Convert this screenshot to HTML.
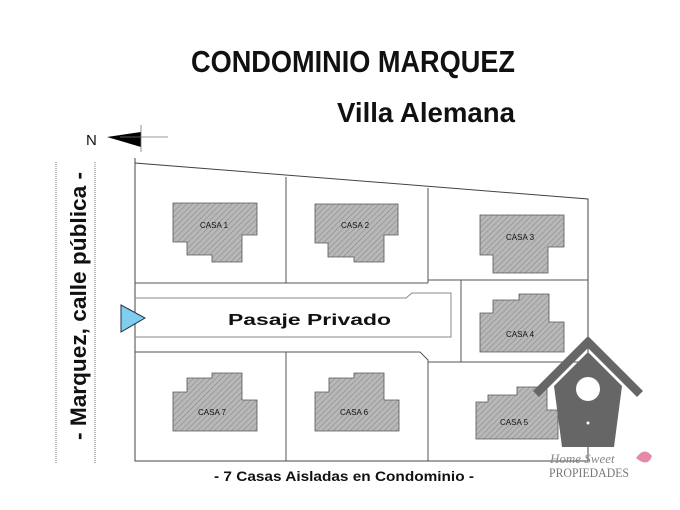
<!DOCTYPE html>
<html><head><meta charset="utf-8"><style>
html,body{margin:0;padding:0;background:#fff;}
svg{display:block;}
</style></head><body>
<svg width="680" height="510" viewBox="0 0 680 510" xmlns="http://www.w3.org/2000/svg">
<defs>
<pattern id="h" width="4" height="4" patternUnits="userSpaceOnUse" patternTransform="rotate(45)">
<rect width="4" height="4" fill="#b8b8b8"/><line x1="0" y1="0" x2="0" y2="4" stroke="#8a8a8a" stroke-width="1.2"/>
</pattern>
</defs>
<g font-family="Liberation Sans, sans-serif" font-weight="bold" fill="#111">
<text x="191" y="72" font-size="31" textLength="324" lengthAdjust="spacingAndGlyphs">CONDOMINIO MARQUEZ</text>
<text x="337" y="122" font-size="28" textLength="178" lengthAdjust="spacingAndGlyphs">Villa Alemana</text>
<text x="0" y="0" font-size="22" transform="translate(86,440) rotate(-90)" textLength="268" lengthAdjust="spacingAndGlyphs">- Marquez, calle pública -</text>
<text x="214" y="481" font-size="14" textLength="260" lengthAdjust="spacingAndGlyphs">- 7 Casas Aisladas en Condominio -</text>
<text x="228" y="325" font-size="16" textLength="163" lengthAdjust="spacingAndGlyphs">Pasaje Privado</text>
</g>
<text x="86" y="145" font-family="Liberation Sans, sans-serif" font-size="15" fill="#111">N</text>
<polygon points="107,137 141,132 141,147" fill="#000"/>
<line x1="141" y1="125" x2="141" y2="152" stroke="#777" stroke-width="0.8"/>
<line x1="120" y1="137" x2="168" y2="137" stroke="#777" stroke-width="0.8"/>
<line x1="56" y1="162" x2="56" y2="463" stroke="#777" stroke-width="1" stroke-dasharray="1,1"/>
<line x1="95" y1="162" x2="95" y2="463" stroke="#777" stroke-width="1" stroke-dasharray="1,1"/>
<g fill="none" stroke="#555" stroke-width="1">
<polyline points="135,158 135,163 588,199 588,461 135,461 135,163" stroke="#444"/>
<line x1="135" y1="283" x2="428" y2="283"/>
<line x1="428" y1="280" x2="588" y2="280"/>
<line x1="286" y1="177" x2="286" y2="283"/>
<line x1="428" y1="188" x2="428" y2="283"/>
<polyline points="135,298 406,298 412,293 451,293 451,337 135,337" stroke="#888"/>
<polyline points="135,352 420,352 428,360 428,461"/>
<line x1="428" y1="362" x2="588" y2="362"/>
<line x1="461" y1="280" x2="461" y2="362"/>
<line x1="286" y1="352" x2="286" y2="461"/>
</g>
<g fill="url(#h)" stroke="#555" stroke-width="0.8">
<polygon points="173,203 257,203 257,235 242,235 242,262 212,262 212,255 187,255 187,242 173,242"/>
<polygon points="315,204 398,204 398,235 384,235 384,262 354,262 354,257 328,257 328,243 315,243"/>
<polygon points="480,215 564,215 564,247 548,247 548,273 493,273 493,255 480,255"/>
<polygon points="519,294 549,294 549,322 564,322 564,352 480,352 480,313 493,313 493,300 519,300"/>
<polygon points="517,387 547,387 547,410 558,410 558,439 476,439 476,402 488,402 488,395 517,395"/>
<polygon points="212,373 242,373 242,400 257,400 257,431 173,431 173,392 187,392 187,378 212,378"/>
<polygon points="354,373 384,373 384,400 399,400 399,431 315,431 315,392 329,392 329,378 354,378"/>
</g>
<g font-family="Liberation Sans, sans-serif" font-size="8" fill="#111">
<text x="200" y="228">CASA 1</text>
<text x="341" y="228">CASA 2</text>
<text x="506" y="240">CASA 3</text>
<text x="506" y="337">CASA 4</text>
<text x="500" y="425">CASA 5</text>
<text x="198" y="415">CASA 7</text>
<text x="340" y="415">CASA 6</text>
</g>
<polygon points="121,305 145,318 121,332" fill="#80cdf0" stroke="#234" stroke-width="1"/>
<polygon points="588,336 643,391 637,397 588,348 539,397 533,391" fill="#666"/>
<polygon points="588,352 622,386 614,447 562,447 554,386" fill="#666"/>
<circle cx="588" cy="389" r="12" fill="#fff"/>
<circle cx="588" cy="423" r="1.5" fill="#fff"/>
<text x="550" y="463" font-family="Liberation Serif, serif" font-style="italic" font-size="13" fill="#888">Home Sweet</text>
<text x="549" y="477" font-family="Liberation Serif, serif" font-size="13" fill="#777" textLength="80" lengthAdjust="spacingAndGlyphs">PROPIEDADES</text>
<path d="M636,458 q8,-12 16,-2 q-4,12 -16,2z" fill="#e48aa8"/>
</svg>
</body></html>
